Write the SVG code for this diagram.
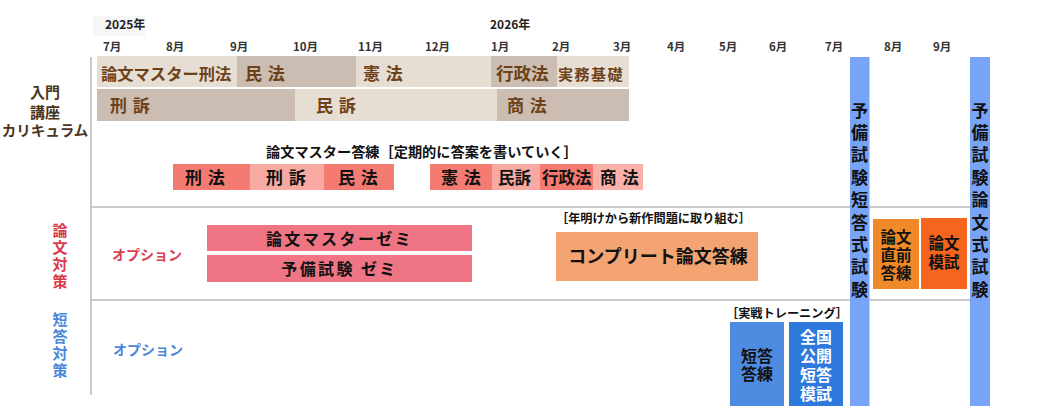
<svg xmlns="http://www.w3.org/2000/svg" width="1040" height="409" viewBox="0 0 1040 409">
<style>
text{font-family:"Noto Sans CJK JP","Noto Sans",sans-serif;font-weight:bold}
.mon{font-size:11.5px;fill:#333}
.yr{font-size:12px;fill:#222}
.br{fill:#6e4219}
.lbl{font-size:15px;fill:#4a3520}
.k{fill:#111}
.sep{stroke:#b9b9b9;stroke-width:1.5;fill:none}
.lite{fill:#e6ddd3}
.dark{fill:#cbbdb1}
.rd{fill:#f47b72}
.rl{fill:#f8aaa2}
.pk{fill:#ef7585}
.exam{fill:#78a4f7}
</style>
<rect width="1040" height="409" fill="#fff"/>
<g id="timeline">
<rect x="93" y="16" width="52" height="20" fill="#f6f6f6"/>
<text class="yr" x="105" y="29">2025年</text>
<text class="yr" x="490" y="29">2026年</text>
<text class="mon" x="103" y="51">7月</text>
<text class="mon" x="166" y="51">8月</text>
<text class="mon" x="230" y="51">9月</text>
<text class="mon" x="293" y="51">10月</text>
<text class="mon" x="358" y="51">11月</text>
<text class="mon" x="425" y="51">12月</text>
<text class="mon" x="491" y="51">1月</text>
<text class="mon" x="552" y="51">2月</text>
<text class="mon" x="613" y="51">3月</text>
<text class="mon" x="667" y="51">4月</text>
<text class="mon" x="719" y="51">5月</text>
<text class="mon" x="769" y="51">6月</text>
<text class="mon" x="825" y="51">7月</text>
<text class="mon" x="884" y="51">8月</text>
<text class="mon" x="933" y="51">9月</text>
</g>
<g id="connectors">
<line class="sep" x1="91" y1="57" x2="91" y2="395"/>
<line class="sep" x1="91" y1="207" x2="850" y2="207"/>
<line class="sep" x1="869" y1="207" x2="970" y2="207"/>
<line class="sep" x1="91" y1="300" x2="850" y2="300"/>
<line class="sep" x1="869" y1="300" x2="970" y2="300"/>
</g>
<g id="row-labels">
<text class="lbl" text-anchor="middle"><tspan x="45" y="98">入門</tspan><tspan x="45" y="118">講座</tspan><tspan x="45" y="136" font-size="14.5">カリキュラム</tspan></text>
<text font-size="15" fill="#d8394b" text-anchor="middle"><tspan x="60" y="236">論</tspan><tspan x="60" y="253">文</tspan><tspan x="60" y="270">対</tspan><tspan x="60" y="287">策</tspan></text>
<text font-size="15" fill="#4b87d9" text-anchor="middle"><tspan x="60" y="325">短</tspan><tspan x="60" y="342">答</tspan><tspan x="60" y="359">対</tspan><tspan x="60" y="376">策</tspan></text>
<text x="147" y="260" font-size="14" fill="#d9404f" text-anchor="middle">オプション</text>
<text x="148" y="355" font-size="14" fill="#4b87d9" text-anchor="middle">オプション</text>
</g>
<g id="intro-row-a">
<rect class="lite" x="97" y="56" width="140" height="31"/>
<rect class="dark" x="237" y="56" width="119" height="31"/>
<rect class="lite" x="356" y="56" width="135" height="31"/>
<rect class="dark" x="491" y="56" width="66" height="31"/>
<rect class="lite" x="557" y="56" width="72" height="31"/>
<text class="br" x="101" y="80" font-size="16.3">論文マスター刑法</text>
<text class="br" x="245" y="80" font-size="17" letter-spacing="1">民 法</text>
<text class="br" x="363" y="80" font-size="17" letter-spacing="1">憲 法</text>
<text class="br" x="496" y="80" font-size="17.5">行政法</text>
<text class="br" x="558" y="80" font-size="15" letter-spacing="1.5">実務基礎</text>
</g>
<g id="intro-row-b">
<rect class="dark" x="97" y="89" width="198" height="32"/>
<rect class="lite" x="295" y="89" width="202" height="32"/>
<rect class="dark" x="497" y="89" width="132" height="32"/>
<text class="br" x="110" y="112" font-size="17" letter-spacing="1">刑 訴</text>
<text class="br" x="316" y="112" font-size="17" letter-spacing="1">民 訴</text>
<text class="br" x="507" y="112" font-size="17" letter-spacing="1">商 法</text>
</g>
<g id="master-toren">
<text class="k" x="266" y="157" font-size="14.2">論文マスター答練［定期的に答案を書いていく］</text>
<rect class="rd" x="173" y="164" width="77" height="26"/>
<rect class="rl" x="250" y="164" width="74" height="26"/>
<rect class="rd" x="324" y="164" width="70" height="26"/>
<rect class="rd" x="430" y="164" width="62" height="26"/>
<rect class="rl" x="492" y="164" width="48" height="26"/>
<rect fill="#f57a70" x="540" y="164" width="53" height="26"/>
<rect fill="#f9b1a9" x="593" y="164" width="50" height="26"/>
<g class="k" font-size="17">
<text x="185" y="184" letter-spacing="1">刑 法</text>
<text x="266" y="184" letter-spacing="1">刑 訴</text>
<text x="338" y="184" letter-spacing="1">民 法</text>
<text x="441" y="184" letter-spacing="1">憲 法</text>
<text x="498" y="184" font-size="16.5">民訴</text>
<text x="542" y="184" font-size="16.5">行政法</text>
<text x="600" y="184" font-size="16.5" letter-spacing="1">商 法</text>
</g>
</g>
<g id="ronbun-seminar">
<rect class="pk" x="207" y="225" width="265" height="26"/>
<rect class="pk" x="207" y="255" width="265" height="27"/>
<text class="k" x="339.5" y="244.5" font-size="16" letter-spacing="2.4" text-anchor="middle">論文マスターゼミ</text>
<text class="k" x="339.5" y="275" font-size="16" letter-spacing="2.4" text-anchor="middle">予備試験 ゼミ</text>
</g>
<g id="complete-toren">
<text class="k" x="556" y="222.5" font-size="12.2">［年明けから新作問題に取り組む］</text>
<rect fill="#f4a373" x="556" y="232" width="202" height="49"/>
<text class="k" x="658" y="263" font-size="18" text-anchor="middle">コンプリート論文答練</text>
</g>
<g id="exam-tanto">
<rect class="exam" x="850" y="57" width="19.5" height="349"/>
<text class="k" font-size="17" text-anchor="middle"><tspan x="859.5" y="116.5">予</tspan><tspan x="859.5" dy="22.4">備</tspan><tspan x="859.5" dy="22.4">試</tspan><tspan x="859.5" dy="22.4">験</tspan><tspan x="859.5" dy="22.4">短</tspan><tspan x="859.5" dy="22.4">答</tspan><tspan x="859.5" dy="22.4">式</tspan><tspan x="859.5" dy="22.4">試</tspan><tspan x="859.5" dy="22.4">験</tspan></text>
</g>
<g id="exam-ronbun">
<rect class="exam" x="970" y="57" width="20" height="349"/>
<text class="k" font-size="17" text-anchor="middle"><tspan x="980" y="116.5">予</tspan><tspan x="980" dy="22.4">備</tspan><tspan x="980" dy="22.4">試</tspan><tspan x="980" dy="22.4">験</tspan><tspan x="980" dy="22.4">論</tspan><tspan x="980" dy="22.4">文</tspan><tspan x="980" dy="22.4">式</tspan><tspan x="980" dy="22.4">試</tspan><tspan x="980" dy="22.4">験</tspan></text>
</g>
<g id="chokuzen-toren">
<rect fill="#f08a28" x="873" y="219" width="46" height="70"/>
<text class="k" font-size="15.5" text-anchor="middle"><tspan x="896" y="243">論文</tspan><tspan x="896" y="261">直前</tspan><tspan x="896" y="279">答練</tspan></text>
</g>
<g id="ronbun-moshi">
<rect fill="#f5651e" x="921" y="218" width="46" height="71"/>
<text class="k" font-size="15.5" text-anchor="middle"><tspan x="944" y="249">論文</tspan><tspan x="944" y="268">模試</tspan></text>
</g>
<g id="jissen">
<text class="k" x="726" y="318" font-size="12.2">［実戦トレーニング］</text>
</g>
<g id="tanto-toren">
<rect fill="#4f8be0" x="730" y="322" width="54" height="84"/>
<text class="k" font-size="16" text-anchor="middle"><tspan x="757" y="362">短答</tspan><tspan x="757" y="380">答練</tspan></text>
</g>
<g id="zenkoku-moshi">
<rect fill="#2f78dc" x="789" y="322" width="54" height="84"/>
<text fill="#fff" font-size="16" text-anchor="middle"><tspan x="816" y="343">全国</tspan><tspan x="816" y="362">公開</tspan><tspan x="816" y="381">短答</tspan><tspan x="816" y="400">模試</tspan></text>
</g>
</svg>
